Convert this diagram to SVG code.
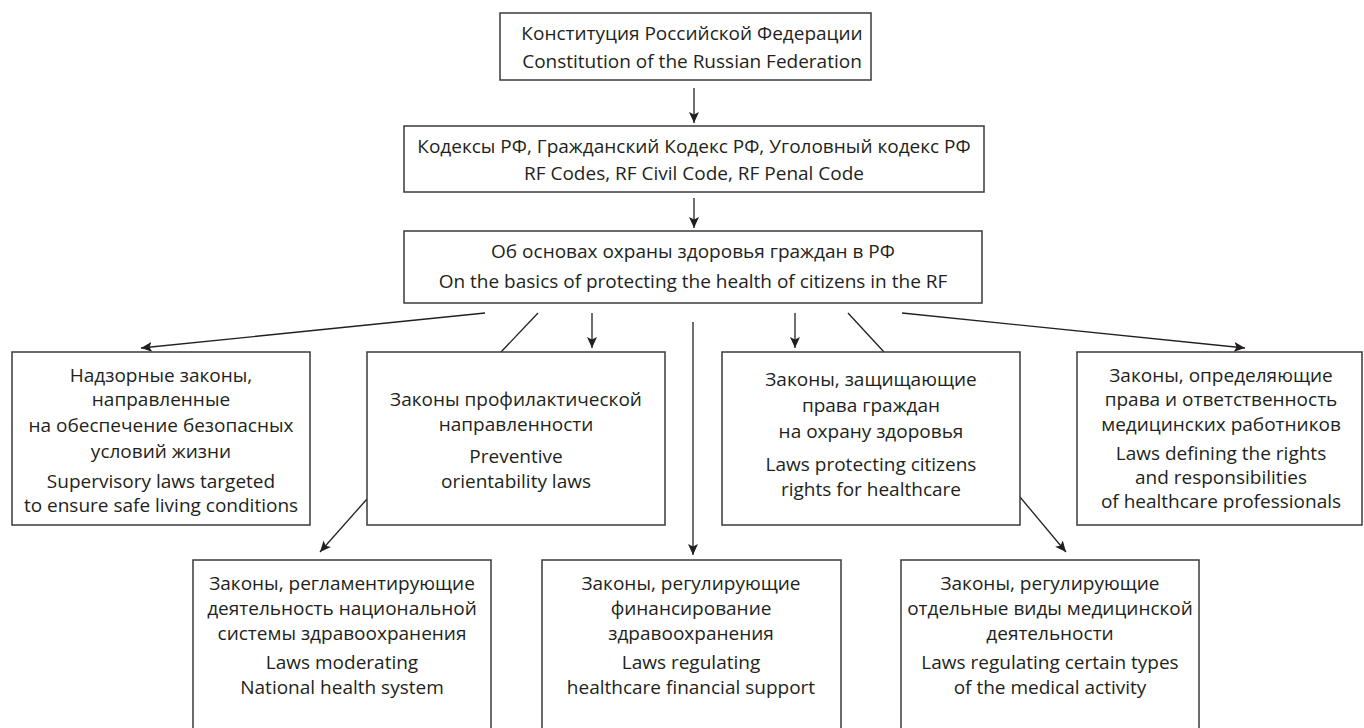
<svg xmlns="http://www.w3.org/2000/svg" width="1364" height="728" viewBox="0 0 1364 728">
<defs>
<style>
.box{fill:#fff;stroke:#3a3a3a;stroke-width:1.5}
.t{font-family:"Open Sans","Liberation Sans",sans-serif;font-size:19px;fill:#231f20;text-anchor:middle}
.c{stroke:#231f20;stroke-width:1.3;fill:none}
</style>
<marker id="ah" markerUnits="userSpaceOnUse" markerWidth="12" markerHeight="10" refX="11" refY="5" orient="auto">
<path d="M0,0 L11,5 L0,10 L2.5,5 Z" fill="#231f20"/>
</marker>
</defs>
<rect width="1364" height="728" fill="#fff"/>
<g id="connectors">
<line class="c" x1="694" y1="88" x2="694" y2="123" marker-end="url(#ah)"/>
<line class="c" x1="694" y1="198" x2="694" y2="228" marker-end="url(#ah)"/>
<line class="c" x1="485" y1="313" x2="141" y2="348" marker-end="url(#ah)"/>
<line class="c" x1="538" y1="313" x2="501" y2="352"/>
<line class="c" x1="592" y1="313" x2="592" y2="348" marker-end="url(#ah)"/>
<line class="c" x1="693" y1="322" x2="693" y2="555" marker-end="url(#ah)"/>
<line class="c" x1="795" y1="313" x2="795" y2="348" marker-end="url(#ah)"/>
<line class="c" x1="848" y1="313" x2="884" y2="352"/>
<line class="c" x1="902" y1="313" x2="1245" y2="348" marker-end="url(#ah)"/>
<line class="c" x1="367" y1="499" x2="320" y2="552" marker-end="url(#ah)"/>
<line class="c" x1="1020" y1="497" x2="1066" y2="552" marker-end="url(#ah)"/>
</g>
<g id="constitution">
<rect class="box" x="500" y="13" width="371" height="67"/>
<text class="t" x="692" y="40">Конституция Российской Федерации</text>
<text class="t" x="692" y="68">Constitution of the Russian Federation</text>
</g>
<g id="codes">
<rect class="box" x="404" y="126" width="580" height="66"/>
<text class="t" x="694" y="153">Кодексы РФ, Гражданский Кодекс РФ, Уголовный кодекс РФ</text>
<text class="t" x="694" y="180">RF Codes, RF Civil Code, RF Penal Code</text>
</g>
<g id="basics">
<rect class="box" x="404" y="231" width="578" height="72"/>
<text class="t" x="693" y="258">Об основах охраны здоровья граждан в РФ</text>
<text class="t" x="693" y="288">On the basics of protecting the health of citizens in the RF</text>
</g>
<g id="supervisory">
<rect class="box" x="12" y="352" width="298" height="173"/>
<text class="t" x="161" y="382">Надзорные законы,</text>
<text class="t" x="161" y="406">направленные</text>
<text class="t" x="161" y="432">на обеспечение безопасных</text>
<text class="t" x="161" y="458">условий жизни</text>
<text class="t" x="161" y="488">Supervisory laws targeted</text>
<text class="t" x="161" y="512">to ensure safe living conditions</text>
</g>
<g id="preventive">
<rect class="box" x="367" y="352" width="298" height="173"/>
<text class="t" x="516" y="406">Законы профилактической</text>
<text class="t" x="516" y="431">направленности</text>
<text class="t" x="516" y="463">Preventive</text>
<text class="t" x="516" y="488">orientability laws</text>
</g>
<g id="citizens">
<rect class="box" x="722" y="352" width="298" height="173"/>
<text class="t" x="871" y="386">Законы, защищающие</text>
<text class="t" x="871" y="412">права граждан</text>
<text class="t" x="871" y="438">на охрану здоровья</text>
<text class="t" x="871" y="471">Laws protecting citizens</text>
<text class="t" x="871" y="496">rights for healthcare</text>
</g>
<g id="professionals">
<rect class="box" x="1077" y="352" width="285" height="173"/>
<text class="t" x="1221" y="382">Законы, определяющие</text>
<text class="t" x="1221" y="406">права и ответственность</text>
<text class="t" x="1221" y="431">медицинских работников</text>
<text class="t" x="1221" y="460">Laws defining the rights</text>
<text class="t" x="1221" y="484">and responsibilities</text>
<text class="t" x="1221" y="508">of healthcare professionals</text>
</g>
<g id="national">
<rect class="box" x="193" y="560" width="298" height="180"/>
<text class="t" x="342" y="590">Законы, регламентирующие</text>
<text class="t" x="342" y="615">деятельность национальной</text>
<text class="t" x="342" y="640">системы здравоохранения</text>
<text class="t" x="342" y="669">Laws moderating</text>
<text class="t" x="342" y="694">National health system</text>
</g>
<g id="financing">
<rect class="box" x="542" y="560" width="299" height="180"/>
<text class="t" x="691" y="590">Законы, регулирующие</text>
<text class="t" x="691" y="615">финансирование</text>
<text class="t" x="691" y="640">здравоохранения</text>
<text class="t" x="691" y="669">Laws regulating</text>
<text class="t" x="691" y="694">healthcare financial support</text>
</g>
<g id="medical">
<rect class="box" x="901" y="560" width="298" height="180"/>
<text class="t" x="1050" y="590">Законы, регулирующие</text>
<text class="t" x="1050" y="615">отдельные виды медицинской</text>
<text class="t" x="1050" y="640">деятельности</text>
<text class="t" x="1050" y="669">Laws regulating certain types</text>
<text class="t" x="1050" y="694">of the medical activity</text>
</g>
</svg>
